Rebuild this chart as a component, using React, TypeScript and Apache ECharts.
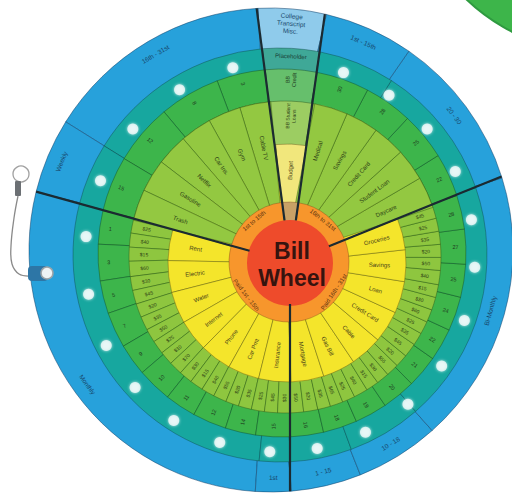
import React, { useEffect, useRef } from "react";
import * as echarts from "echarts";

// ---------------- data ----------------
// Angles in degrees, counter-clockwise, starting at the right edge of the top window.
const START_ANGLE = 82;
const SECTION_NAMES = ["Window", "Upper left", "Lower left", "Lower right", "Upper right"];
const SECTION_SPANS = [15.5, 67, 105.5, 112, 60];

const BLUE_SPANS = [15.5, 50.5, 16.5, 96.5, 9, 18, 22, 72, 39, 21];
const BLUE_LABELS = ["College\nTranscript\nMisc.", "16th - 31st", "Weekly", "Monthly", "1st", "1 - 15", "10 - 18", "Bi-Monthly", "20 - 30", "1st - 15th"];

const TEAL_SPANS = [15.5, 50.5, 16.5, 96.5, 9, 18, 22, 72, 39, 21];
const TEAL_LABELS = ["Placeholder", "", "", "", "", "", "", "", "", ""];

const GREEN_SPANS = [15.5, 14.5, 18, 18, 16.5, 10, 11, 10, 11, 10, 11, 10, 11, 10, 11.5, 11, 11.5, 11, 11.5, 11, 11, 11.5, 11, 11.5, 11, 14, 15, 15, 16];
const GREEN_LABELS = ["BB\nCredit", "3", "8", "12", "15", "1", "3", "5", "7", "9", "10", "11", "12", "14", "15", "16", "18", "19", "20", "21", "22", "24", "25", "27", "28", "22", "25", "28", "30"];

const LIME_SPANS = [15.5, 67,
  5, 5, 5, 5.5, 5, 5, 5, 5, 5, 5, 5, 5, 5, 5, 5, 5, 5, 5, 5, 5, 5,
  5, 5.5, 5, 5, 5, 5.5, 5, 5, 5, 5, 5.5, 5, 5, 5, 5, 5, 5.5, 5, 5, 5, 5, 5,
  60];
const LIME_LABELS = ["BB Student\nLoans", "",
  "$25", "$40", "$15", "$60", "$30", "$45", "$20", "$35", "$50", "$25", "$10", "$70", "$30", "$15", "$40", "$55", "$20", "$35", "$25", "$45", "$30",
  "$50", "$20", "$35", "$65", "$25", "$40", "$15", "$30", "$55", "$20", "$45", "$35", "$25", "$60", "$30", "$15", "$40", "$50", "$20", "$35", "$25", "$45",
  ""];

const YELLOW_SPANS = [15.5, 67, 15, 15, 15, 15, 15, 15, 15.5, 16, 16, 16, 16, 16, 16, 16, 60];
const YELLOW_LABELS = ["Budget", "", "Rent", "Electric", "Water", "Internet", "Phone", "Car Pmt", "Insurance", "Mortgage", "Gas Bill", "Cable", "Credit Card", "Loan", "Savings", "Groceries", ""];

const UPPER_LIME_SPANS = [15.5, 11, 11.5, 11, 11, 11.5, 11, 217.5, 12, 12, 12, 12, 12];
const UPPER_LIME_LABELS = ["", "Cable TV", "Gym", "Car Ins.", "Netflix", "Gasoline", "Trash", "", "Daycare", "Student Loan", "Credit Card", "Savings", "Medical"];

const ORANGE_SPANS = [15.5, 67, 105.5, 112, 60];
const ORANGE_LABELS = ["", "1st to 15th", "Paid 1st - 15th", "Paid 16th - 31st", "16th to 31st"];

const DOT_ANGLES = [104, 121, 139, 157, 174, 191, 207, 222, 237, 252, 267, 281, 296, 311, 326, 341, 357, 11, 26, 41, 56, 71];

const HUB_LINES = ["Bill", "Wheel"];

// ---------------- geometry / styles ----------------
const HUB = [290, 262];
const D2R = Math.PI / 180;

const RINGS = [
  { center: [271, 250], r: 242, r0: 207, spans: BLUE_SPANS, labels: BLUE_LABELS, color: "#27a1db", wedge: "#8fcbeb", rotate: "tangential", wedgeRotate: "tangential", fontSize: 6.5, labelColor: "#17466a", border: "rgba(15,60,100,0.7)" },
  { center: [280, 255], r: 207, r0: 185, spans: TEAL_SPANS, labels: TEAL_LABELS, color: "#17a79f", wedge: "#3fa897", rotate: "tangential", wedgeRotate: "tangential", fontSize: 6, labelColor: "#173b34", border: "rgba(15,70,70,0.6)" },
  { center: [282, 253], r: 184, r0: 157, spans: GREEN_SPANS, labels: GREEN_LABELS, color: "#3db54b", wedge: "#66bf6c", rotate: "radial", wedgeRotate: "radial", fontSize: 5.5, labelColor: "#1e3a1e", border: "rgba(20,70,30,0.6)" },
  { center: [285, 257], r: 156, r0: 120, spans: LIME_SPANS, labels: LIME_LABELS, color: "#8ec63f", wedge: "#9ccd62", rotate: "radial", wedgeRotate: "radial", fontSize: 5, labelColor: "#2e4216", border: "rgba(40,80,20,0.6)" },
  { center: [287, 263], r: 119, r0: 60, spans: YELLOW_SPANS, labels: YELLOW_LABELS, color: "#f4e52b", wedge: "#f1e77c", rotate: "radial", wedgeRotate: "radial", fontSize: 6, labelColor: "#4a4418", border: "rgba(90,80,20,0.6)" },
  { center: [285, 257], r: 156, r0: 60, spans: UPPER_LIME_SPANS, labels: UPPER_LIME_LABELS, color: "#93c841", wedge: "#93c841", fillers: [0, 7], rotate: "radial", wedgeRotate: "radial", fontSize: 6, labelColor: "#2e4216", border: "rgba(40,80,20,0.6)" },
  { center: [289, 262], r: 60, r0: 42, spans: ORANGE_SPANS, labels: ORANGE_LABELS, color: "#f7962c", wedge: "#c9a166", rotate: "tangential", wedgeRotate: "tangential", fontSize: 6, labelColor: "#5a3310", border: "rgba(110,60,20,0.5)" },
];

function ringAngle(theta: number, c: number[], rm: number) {
  const ux = Math.cos(theta * D2R), uy = -Math.sin(theta * D2R);
  const dx = HUB[0] - c[0], dy = HUB[1] - c[1];
  const b = dx * ux + dy * uy;
  const t = -b + Math.sqrt(b * b - (dx * dx + dy * dy) + rm * rm);
  const x = HUB[0] + t * ux - c[0], y = HUB[1] + t * uy - c[1];
  return Math.atan2(-y, x) / D2R;
}

function transformSpans(spans: number[], c: number[], rm: number) {
  const bounds = [START_ANGLE];
  spans.forEach((s) => bounds.push(bounds[bounds.length - 1] + s));
  const a = bounds.map((b) => ringAngle(b, c, rm));
  const out = spans.map((_, i) => {
    let d = a[i + 1] - a[i];
    d = ((d % 360) + 360) % 360;
    return d;
  });
  return { start: a[0], spans: out };
}

function edgePoint(theta: number, c: number[], R: number) {
  const ux = Math.cos(theta * D2R), uy = -Math.sin(theta * D2R);
  const dx = HUB[0] - c[0], dy = HUB[1] - c[1];
  const b = dx * ux + dy * uy;
  const t = -b + Math.sqrt(b * b - (dx * dx + dy * dy) + R * R);
  return [HUB[0] + t * ux, HUB[1] + t * uy];
}

function buildOption() {
  const discs: any[] = [];
  const labelSeries: any[] = [];
  RINGS.forEach((ring: any, idx) => {
    const rm = (ring.r0 + ring.r) / 2;
    const t = transformSpans(ring.spans, ring.center, rm);
    const fillers: number[] = ring.fillers || [];
    discs.push({
      type: "pie", name: "ring" + idx, center: ring.center, radius: [0, ring.r], startAngle: t.start, clockwise: false,
      silent: true, avoidLabelOverlap: false, label: { show: false }, labelLine: { show: false },
      emphasis: { disabled: true }, itemStyle: { borderColor: ring.border, borderWidth: 0.7 },
      data: t.spans.map((v, i) => ({
        value: v, name: ring.labels[i] || "",
        itemStyle: fillers.includes(i) ? { color: "rgba(0,0,0,0)", borderWidth: 0 } : { color: i === 0 ? ring.wedge : ring.color },
      })),
    });
    labelSeries.push({
      type: "pie", name: "labels" + idx, center: ring.center, radius: [ring.r0, ring.r], startAngle: t.start, clockwise: false,
      silent: true, avoidLabelOverlap: false, labelLine: { show: false }, emphasis: { disabled: true },
      itemStyle: { color: "rgba(0,0,0,0)", borderWidth: 0 },
      label: { show: true, position: "inside", rotate: ring.rotate, fontSize: ring.fontSize, lineHeight: ring.fontSize + 1, color: ring.labelColor, fontFamily: "Liberation Sans", formatter: "{b}" },
      data: t.spans.map((v, i) => {
        const item: any = { value: v, name: ring.labels[i] || "" };
        if (i === 0) item.label = { rotate: ring.wedgeRotate };
        return item;
      }),
    });
  });

  const hub = {
    type: "pie", name: "hub", center: [290, 263], radius: [0, 43], silent: true, emphasis: { disabled: true },
    itemStyle: { color: "#ee4b2b" }, labelLine: { show: false }, label: { show: false },
    data: [{ value: 1, name: HUB_LINES.join(" ") }],
  };

  const dots = {
    type: "scatter", coordinateSystem: "polar", silent: true, symbolSize: 11, z: 5,
    itemStyle: { color: "#f3fbfb", shadowBlur: 3, shadowColor: "rgba(255,255,255,0.9)" },
    data: DOT_ANGLES.map((a) => [1, a]),
  };

  // dividers between sections
  const divAngles: number[] = [START_ANGLE];
  SECTION_SPANS.slice(0, -1).forEach((s) => divAngles.push(divAngles[divAngles.length - 1] + s));
  const dividers = divAngles.map((a) => {
    const ux = Math.cos(a * D2R), uy = -Math.sin(a * D2R);
    const p0 = [HUB[0] + 42 * ux, HUB[1] + 42 * uy];
    const p1 = edgePoint(a, RINGS[0].center, RINGS[0].r);
    return { type: "line", z: 10, silent: true, shape: { x1: p0[0], y1: p0[1], x2: p1[0], y2: p1[1] }, style: { stroke: "#1b2a31", lineWidth: 2.2 } };
  });

  const hubText = HUB_LINES.map((s, i) => ({
    type: "text", z: 12, silent: true, x: 292, y: 251 + i * 27,
    style: { text: s, fill: "#36140f", font: "bold 23px 'Liberation Sans', Arial, sans-serif", align: "center", verticalAlign: "middle" },
  }));

  const decor: any[] = [
    // neighbouring wheel in the top-right corner
    { type: "circle", z: 0, silent: true, shape: { cx: 600, cy: -140, r: 193 }, style: { fill: "#3db54a", stroke: "#2f9a40", lineWidth: 2 } },
    // hook
    { type: "circle", z: 10, silent: true, shape: { cx: 21, cy: 174, r: 8 }, style: { fill: "rgba(0,0,0,0)", stroke: "#a0a0a0", lineWidth: 1.3 } },
    { type: "rect", z: 10, silent: true, shape: { x: 15, y: 181, width: 6, height: 15, r: 1 }, style: { fill: "#6c7074" } },
    { type: "polyline", z: 10, silent: true, shape: { points: [[18, 196], [14, 218], [11, 246], [12, 264], [19, 274], [30, 276]], smooth: 0.4 }, style: { stroke: "#8a8a8a", lineWidth: 1.3, fill: "none" } },
    { type: "rect", z: 10, silent: true, shape: { x: 28, y: 266, width: 20, height: 15, r: 4 }, style: { fill: "#2d76a6" } },
    { type: "circle", z: 11, silent: true, shape: { cx: 47, cy: 273, r: 6 }, style: { fill: "#eef3f5", stroke: "#9aa3a8", lineWidth: 1.5 } },
  ];

  return {
    animation: false,
    backgroundColor: "#ffffff",
    polar: { center: [280, 257], radius: 195 },
    radiusAxis: { type: "value", min: 0, max: 1, show: false },
    angleAxis: { type: "value", min: 0, max: 360, startAngle: 0, clockwise: false, show: false },
    series: [...discs, hub, ...labelSeries, dots],
    graphic: [...decor, ...dividers, ...hubText],
  };
}

export default function App() {
  const ref = useRef<HTMLDivElement>(null);
  useEffect(() => {
    document.body.style.margin = "0";
    const chart = echarts.init(ref.current as HTMLDivElement, null, { renderer: "svg" });
    chart.setOption(buildOption() as any);
    return () => chart.dispose();
  }, []);
  return <div ref={ref} style={{ width: 512, height: 499 }} />;
}
